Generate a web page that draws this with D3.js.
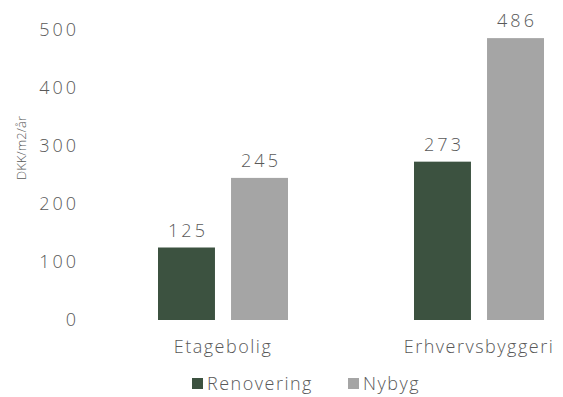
<!DOCTYPE html>
<html lang="da">
<head>
  <meta charset="UTF-8">
  <title>DKK/m2/år</title>
  <script src="https://d3js.org/d3.v7.min.js"></script>
  <style>
    html, body { margin: 0; padding: 0; background: #fff; overflow: hidden; }
    svg { font-family: "Open Sans", sans-serif; font-weight: 300; fill: #595959; }
  </style>
</head>
<body>
<div id="chart"></div>
<script>
  // Data
  const categories = ["Etagebolig", "Erhvervsbyggeri"];
  const seriesNames = ["Renovering", "Nybyg"];
  const renovering = [125, 273];
  const nybyg = [245, 486];
  const yTicks = [0, 100, 200, 300, 400, 500];
  const colors = ["#3c5240", "#a5a5a5"];

  const width = 563, height = 397;
  const series = [renovering, nybyg];

  const svg = d3.select("#chart").append("svg")
    .attr("width", width)
    .attr("height", height);

  // scales
  const y = d3.scaleLinear().domain([0, 500]).range([320, 30]);
  const x0 = d3.scalePoint().domain(categories).range([223, 479]);
  const x1 = d3.scaleBand().domain(seriesNames).range([-65, 65]).paddingInner(0.22);

  // y axis labels (no line)
  svg.append("g").selectAll("text")
    .data(yTicks)
    .join("text")
    .attr("x", 79)
    .attr("y", d => y(d))
    .attr("dy", "0.36em")
    .attr("text-anchor", "end")
    .style("font-size", "18px")
    .style("letter-spacing", "3px")
    .text(d => d);

  // axis title
  svg.append("text")
    .attr("transform", "translate(26,148) rotate(-90)")
    .attr("text-anchor", "middle")
    .style("font-size", "13px")
    .text("DKK/m2/år");

  // bars
  const groups = svg.append("g").selectAll("g")
    .data(categories)
    .join("g")
    .attr("transform", d => `translate(${x0(d)},0)`);

  groups.selectAll("rect")
    .data((c, i) => seriesNames.map((s, j) => ({ s, v: series[j][i] })))
    .join("rect")
    .attr("x", d => x1(d.s))
    .attr("width", x1.bandwidth())
    .attr("y", d => y(d.v))
    .attr("height", d => y(0) - y(d.v))
    .attr("fill", (d, j) => colors[j]);

  groups.selectAll("text.val")
    .data((c, i) => seriesNames.map((s, j) => ({ s, v: series[j][i] })))
    .join("text")
    .attr("class", "val")
    .attr("x", d => x1(d.s) + x1.bandwidth() / 2 + 1.5)
    .attr("y", d => y(d.v) - 11)
    .attr("text-anchor", "middle")
    .style("font-size", "18px")
    .style("letter-spacing", "3px")
    .text(d => d.v);

  // category labels
  svg.append("g").selectAll("text")
    .data(categories)
    .join("text")
    .attr("x", d => x0(d))
    .attr("y", 353)
    .attr("text-anchor", "middle")
    .style("font-size", "18px")
    .style("letter-spacing", "1.5px")
    .text(d => d);

  // legend
  const legendX = [192, 348];
  const legend = svg.append("g").selectAll("g")
    .data(seriesNames)
    .join("g")
    .attr("transform", (d, i) => `translate(${legendX[i]},378)`);
  legend.append("rect")
    .attr("width", 11).attr("height", 11)
    .attr("fill", (d, i) => colors[i]);
  legend.append("text")
    .attr("x", 15).attr("y", 12)
    .style("font-size", "18px")
    .style("letter-spacing", "1.5px")
    .text(d => d);
</script>
</body>
</html>
